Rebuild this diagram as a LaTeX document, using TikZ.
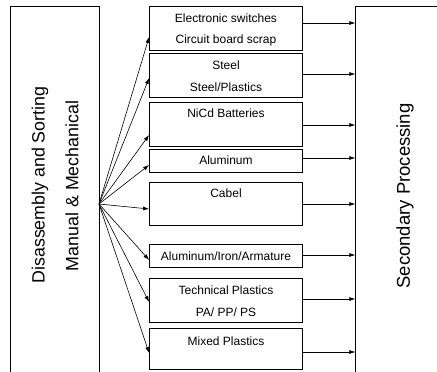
\documentclass[tikz,border=0pt]{standalone}
\usepackage{fontspec}
\setmainfont{Liberation Sans}
\usetikzlibrary{arrows.meta}
\tikzset{
  mbox/.style={draw, line width=0.8pt, minimum width=153pt, inner sep=0pt},
  btxt/.style={font=\fontsize{12}{14}\selectfont, inner sep=0pt, anchor=center},
  big/.style={font=\fontsize{17.8}{20}\selectfont, inner sep=0pt, rotate=90, anchor=center},
  arr/.style={line width=0.6pt, -{Latex[length=6pt,width=4pt]}},
}
\begin{document}
\begin{tikzpicture}[x=1pt,y=-1pt]
\clip (0,0) rectangle (437,372);
\fill[white] (0,0) rectangle (437,372);
% left and right big boxes
\draw[line width=0.8pt] (10,390) -- (10,6) -- (99,6) -- (99,390);
\node[minimum width=89pt, minimum height=384pt, inner sep=0pt] (dis) at (54.5,198) {};
\draw[line width=0.8pt] (355.5,390) -- (355.5,6) -- (460,6);
\node[minimum width=104.5pt, minimum height=384pt, inner sep=0pt] (sec) at (407.75,198) {};
\coordinate (src) at (99,204);
\node[big] (t1) at (40,185) {Disassembly and Sorting};
\node[big] (t2) at (72,186) {Manual \& Mechanical};
\node[big, font=\fontsize{18.5}{20}\selectfont] (t3) at (405,196) {Secondary Processing};
% middle boxes
\node[mbox, minimum height=44pt] (b1) at (226,28) {};
\node[mbox, minimum height=44pt] (b2) at (226,75) {};
\node[mbox, minimum height=44pt] (b3) at (226,124) {};
\node[mbox, minimum height=23pt] (b4) at (226,160.5) {};
\node[mbox, minimum height=43pt] (b5) at (226,203.5) {};
\node[mbox, minimum height=23pt] (b6) at (226,255.5) {};
\node[mbox, minimum height=44pt] (b7) at (226,300) {};
\node[mbox, minimum height=41pt] (b8) at (226,348.5) {};
% texts
\node[btxt] (l1a) at (226,18) {Electronic switches};
\node[btxt] (l1b) at (226,40) {Circuit board scrap};
\node[btxt] (l2a) at (226,65) {Steel};
\node[btxt] (l2b) at (226,87) {Steel/Plastics};
\node[btxt] (l3) at (226,113) {NiCd Batteries};
\node[btxt] (l4) at (226,160.5) {Aluminum};
\node[btxt] (l5) at (226,193) {Cabel};
\node[btxt] (l6) at (226,256) {Aluminum/Iron/Armature};
\node[btxt] (l7a) at (226,290) {Technical Plastics};
\node[btxt] (l7b) at (226,312) {PA/ PP/ PS};
\node[btxt] (l8) at (226,341) {Mixed Plastics};
% fan arrows
\draw[arr] (src) -- (b1.west |- 0,37);
\draw[arr] (src) -- (b2.west |- 0,78);
\draw[arr] (src) -- (b3.west |- 0,135);
\draw[arr] (src) -- (b4.west |- 0,165);
\draw[arr] (src) -- (b5.west |- 0,209);
\draw[arr] (src) -- (b6.west |- 0,260);
\draw[arr] (src) -- (b7.west |- 0,302);
\draw[arr] (src) -- (b8.west |- 0,353);
% right arrows
\draw[arr] (b1.east |- 0,23) -- (sec.west |- 0,23);
\draw[arr] (b2.east |- 0,74) -- (sec.west |- 0,74);
\draw[arr] (b3.east |- 0,125) -- (sec.west |- 0,125);
\draw[arr] (b4.east |- 0,158) -- (sec.west |- 0,158);
\draw[arr] (b5.east |- 0,204) -- (sec.west |- 0,204);
\draw[arr] (b6.east |- 0,255) -- (sec.west |- 0,255);
\draw[arr] (b7.east |- 0,299) -- (sec.west |- 0,299);
\draw[arr] (b8.east |- 0,352) -- (sec.west |- 0,352);
\end{tikzpicture}
\end{document}
